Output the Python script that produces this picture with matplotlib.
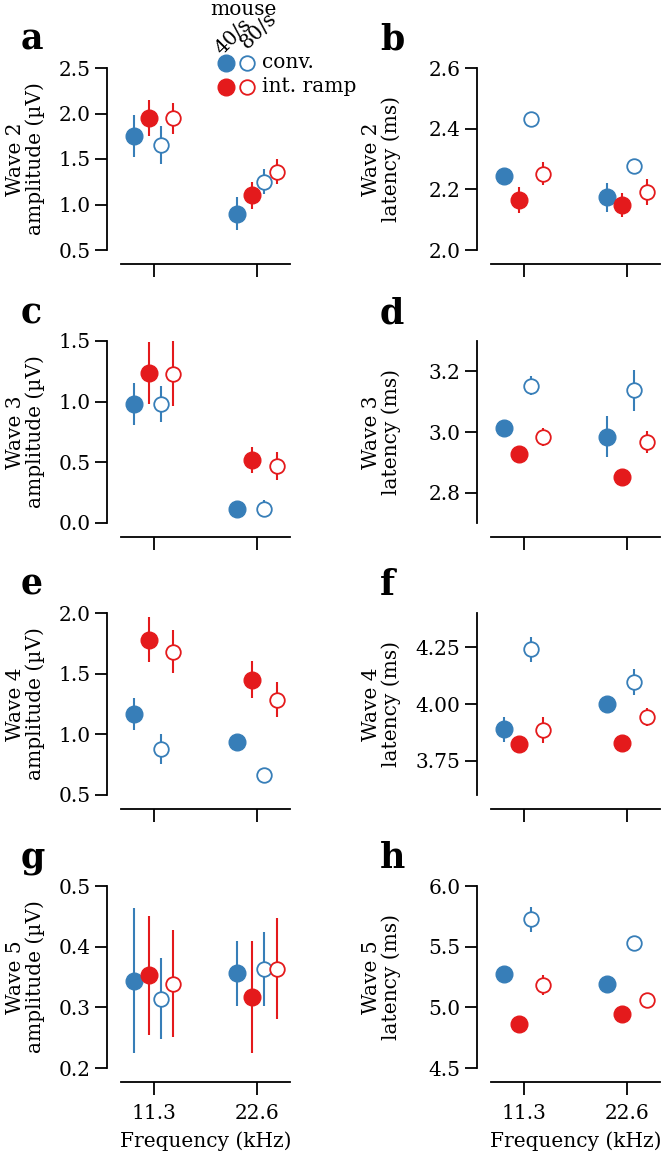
import matplotlib
matplotlib.use("Agg")
import matplotlib.pyplot as plt
from matplotlib.lines import Line2D
from matplotlib.ticker import FormatStrFormatter

plt.rcParams['font.family'] = ['DejaVu Serif']
FS = 14.5
plt.rcParams['font.size'] = FS

# ---------------- data ----------------
freq_labels = ["11.3", "22.6"]
series_names = ["conv. 40/s", "int. ramp 40/s", "conv. 80/s", "int. ramp 80/s"]

# rows: series (conv 40/s, int.ramp 40/s, conv 80/s, int.ramp 80/s); cols: frequency
w2_amp_mean = [[1.75, 0.90], [1.95, 1.10], [1.65, 1.25], [1.95, 1.36]]
w2_amp_err = [[0.23, 0.18], [0.20, 0.145], [0.21, 0.14], [0.17, 0.135]]
w2_lat_mean = [[2.244, 2.174], [2.165, 2.148], [2.432, 2.278], [2.251, 2.192]]
w2_lat_err = [[0.02, 0.048], [0.044, 0.04], [0.02, 0.02], [0.038, 0.043]]

w3_amp_mean = [[0.98, 0.115], [1.237, 0.518], [0.982, 0.118], [1.231, 0.472]]
w3_amp_err = [[0.175, 0.04], [0.255, 0.11], [0.147, 0.07], [0.267, 0.114]]
w3_lat_mean = [[3.012, 2.985], [2.929, 2.853], [3.152, 3.138], [2.984, 2.967]]
w3_lat_err = [[0.015, 0.069], [0.015, 0.015], [0.031, 0.068], [0.03, 0.035]]

w4_amp_mean = [[1.168, 0.937], [1.78, 1.451], [0.879, 0.665], [1.679, 1.286]]
w4_amp_err = [[0.135, 0.04], [0.185, 0.155], [0.126, 0.06], [0.177, 0.147]]
w4_lat_mean = [[3.89, 4.00], [3.825, 3.828], [4.24, 4.096], [3.887, 3.943]]
w4_lat_err = [[0.055, 0.02], [0.02, 0.02], [0.055, 0.057], [0.057, 0.04]]

w5_amp_mean = [[0.344, 0.356], [0.3525, 0.317], [0.314, 0.363], [0.339, 0.364]]
w5_amp_err = [[0.12, 0.054], [0.098, 0.093], [0.067, 0.061], [0.088, 0.083]]
w5_lat_mean = [[5.273, 5.194], [4.866, 4.948], [5.724, 5.533], [5.183, 5.057]]
w5_lat_err = [[0.04, 0.04], [0.04, 0.04], [0.10, 0.04], [0.085, 0.04]]

# ---------------- style ----------------
BLUE = '#377eb8'
RED = '#e41a1c'
series_colors = [BLUE, RED, BLUE, RED]
series_filled = [True, True, False, False]
series_offsets = [-0.194, -0.053, 0.068, 0.189]

W, H = 661, 1156
fig = plt.figure(figsize=(W / 100, H / 100), dpi=100)

AX_W, AX_H = 169, 182
col_left = [121, 491]
row_top = [68, 341, 613, 886]
label_x = [-0.45, -0.53]

panels = [
    ('a', w2_amp_mean, w2_amp_err, (0.5, 2.5), [0.5, 1.0, 1.5, 2.0, 2.5], '%.1f', 'Wave 2\namplitude (µV)', 0, 0),
    ('b', w2_lat_mean, w2_lat_err, (2.0, 2.6), [2.0, 2.2, 2.4, 2.6], '%.1f', 'Wave 2\nlatency (ms)', 1, 0),
    ('c', w3_amp_mean, w3_amp_err, (0.0, 1.5), [0.0, 0.5, 1.0, 1.5], '%.1f', 'Wave 3\namplitude (µV)', 0, 1),
    ('d', w3_lat_mean, w3_lat_err, (2.7, 3.3), [2.8, 3.0, 3.2], '%.1f', 'Wave 3\nlatency (ms)', 1, 1),
    ('e', w4_amp_mean, w4_amp_err, (0.5, 2.0), [0.5, 1.0, 1.5, 2.0], '%.1f', 'Wave 4\namplitude (µV)', 0, 2),
    ('f', w4_lat_mean, w4_lat_err, (3.6, 4.4), [3.75, 4.00, 4.25], '%.2f', 'Wave 4\nlatency (ms)', 1, 2),
    ('g', w5_amp_mean, w5_amp_err, (0.2, 0.5), [0.2, 0.3, 0.4, 0.5], '%.1f', 'Wave 5\namplitude (µV)', 0, 3),
    ('h', w5_lat_mean, w5_lat_err, (4.5, 6.0), [4.5, 5.0, 5.5, 6.0], '%.1f', 'Wave 5\nlatency (ms)', 1, 3),
]

LW = 1.3
for letter, means, errs, ylim, yticks, fmt, ylabel, col, row in panels:
    left = col_left[col]
    top = row_top[row]
    ax = fig.add_axes([left / W, 1 - (top + AX_H) / H, AX_W / W, AX_H / H])
    for i in range(len(series_names)):
        xs = [j + series_offsets[i] for j in range(len(freq_labels))]
        c = series_colors[i]
        if series_filled[i]:
            ax.errorbar(xs, means[i], yerr=errs[i], fmt='o', color=c, mfc=c, mec=c,
                        ms=12, mew=1.0, elinewidth=1.5, capsize=0, zorder=3 + i)
        else:
            ax.errorbar(xs, means[i], yerr=errs[i], fmt='o', color=c, mfc='white', mec=c,
                        ms=10.5, mew=1.3, elinewidth=1.5, capsize=0, zorder=3 + i)
    ax.set_xlim(-0.32, 1.32)
    ax.set_ylim(*ylim)
    ax.set_yticks(yticks)
    ax.yaxis.set_major_formatter(FormatStrFormatter(fmt))
    ax.set_xticks(range(len(freq_labels)))
    for s in ['top', 'right']:
        ax.spines[s].set_visible(False)
    for s in ['left', 'bottom']:
        ax.spines[s].set_position(('outward', 10))
        ax.spines[s].set_linewidth(LW)
    ax.tick_params(axis='y', length=9, width=LW, labelsize=FS, pad=3)
    ax.tick_params(axis='x', length=9, width=LW, labelsize=FS, pad=7)
    if row == 3:
        ax.set_xticklabels(freq_labels)
        ax.set_xlabel('Frequency (kHz)', fontsize=FS, labelpad=6)
    else:
        ax.set_xticklabels([])
    ax.set_ylabel(ylabel, fontsize=FS, linespacing=1.05)
    ax.yaxis.set_label_coords(label_x[col], 0.5)
    lx = left - 100 if col == 0 else left - 111
    fig.text(lx / W, 1 - (top - 18) / H, letter, fontsize=25, fontweight='bold',
             ha='left', va='baseline')

# ---------------- legend (manual) ----------------
def fx(px):
    return px / W

def fy(py):
    return 1 - py / H

fig.text(fx(243), fy(15), 'mouse', ha='center', va='baseline', fontsize=FS)
fig.text(fx(233), fy(37), '40/s', ha='center', va='center', rotation=45, fontsize=FS)
fig.text(fx(258), fy(31), '80/s', ha='center', va='center', rotation=45, fontsize=FS)
leg_rows = [('conv.', BLUE, 63), ('int. ramp', RED, 87)]
for lab, c, py in leg_rows:
    fig.add_artist(Line2D([fx(226)], [fy(py)], transform=fig.transFigure, marker='o',
                          ms=12, mew=1.0, mfc=c, mec=c, linestyle='none'))
    fig.add_artist(Line2D([fx(247)], [fy(py)], transform=fig.transFigure, marker='o',
                          ms=10.5, mew=1.3, mfc='white', mec=c, linestyle='none'))
    fig.text(fx(262), fy(py), lab, ha='left', va='center', fontsize=FS)

fig.savefig('out.png', dpi=100)
